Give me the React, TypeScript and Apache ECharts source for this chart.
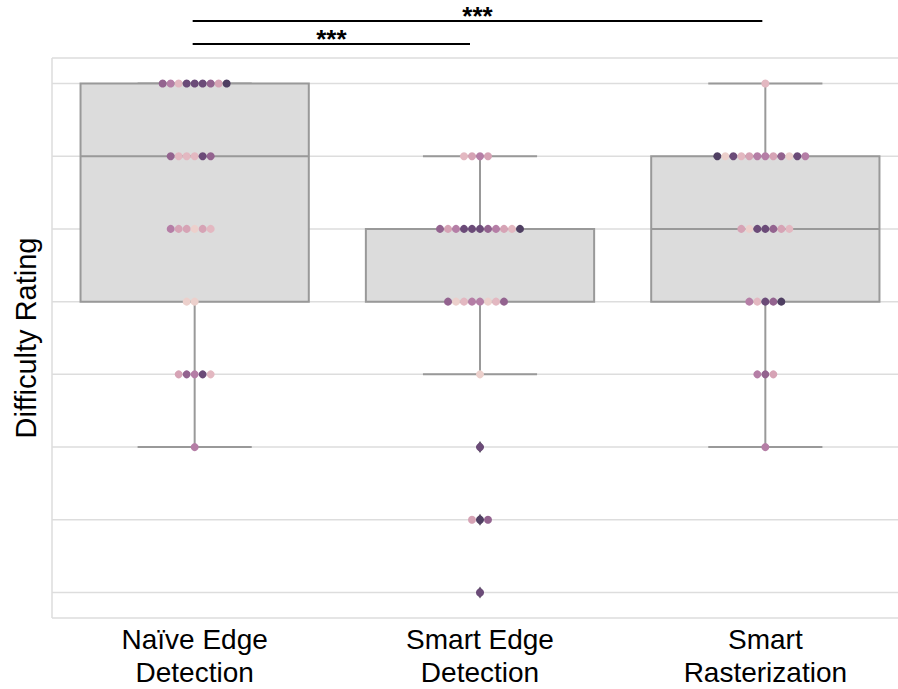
import React, { useEffect, useRef } from "react";
import * as echarts from "echarts";

const categories = ["Naïve Edge\nDetection", "Smart Edge\nDetection", "Smart\nRasterization"];
const yTicks = [1, 2, 3, 4, 5, 6, 7, 8];
const yMin = 0.65;
const yMax = 8.35;

const palette = ["#ecd0cc", "#e3b8c1", "#d6a3b5", "#b57ea6", "#93638f", "#6b4b78", "#4f3f62"];

const naiveRatings = [8, 8, 8, 8, 8, 8, 8, 8, 8, 7, 7, 7, 7, 7, 7, 6, 6, 6, 6, 6, 6, 5, 5, 4, 4, 4, 4, 4, 3];
const naiveShades = [4, 3, 1, 5, 5, 5, 4, 2, 6, 4, 1, 1, 1, 5, 4, 3, 2, 2, 0, 2, 1, 0, 0, 2, 4, 3, 5, 1, 3];

const smartEdgeRatings = [7, 7, 7, 7, 6, 6, 6, 6, 6, 6, 6, 6, 6, 6, 6, 5, 5, 5, 5, 5, 5, 5, 5, 4, 3, 2, 2, 2, 1];
const smartEdgeShades = [1, 2, 3, 2, 4, 2, 3, 5, 5, 5, 4, 3, 2, 1, 6, 4, 0, 1, 3, 3, 0, 1, 4, 0, 5, 2, 6, 4, 5];

const rasterRatings = [8, 7, 7, 7, 7, 7, 7, 7, 7, 7, 7, 7, 7, 6, 6, 6, 6, 6, 6, 6, 5, 5, 5, 5, 5, 4, 4, 4, 3];
const rasterShades = [1, 6, 0, 5, 1, 2, 3, 3, 2, 4, 0, 5, 3, 2, 0, 5, 5, 4, 2, 1, 3, 1, 5, 4, 6, 3, 4, 2, 3];

const sigPairs = [
  [0, 1],
  [0, 2],
];
const sigLabels = ["***", "***"];

const groups = [
  { ratings: naiveRatings, shades: naiveShades },
  { ratings: smartEdgeRatings, shades: smartEdgeShades },
  { ratings: rasterRatings, shades: rasterShades },
];

function quantile(sorted: number[], p: number) {
  const pos = (sorted.length - 1) * p;
  const lo = Math.floor(pos);
  const hi = Math.ceil(pos);
  return sorted[lo] + (sorted[hi] - sorted[lo]) * (pos - lo);
}

function boxStats(values: number[]) {
  const s = [...values].sort((a, b) => a - b);
  const q1 = quantile(s, 0.25);
  const med = quantile(s, 0.5);
  const q3 = quantile(s, 0.75);
  const iqr = q3 - q1;
  const lo = Math.min(...s.filter((v) => v >= q1 - 1.5 * iqr));
  const hi = Math.max(...s.filter((v) => v <= q3 + 1.5 * iqr));
  const outliers = Array.from(new Set(s.filter((v) => v < lo || v > hi)));
  return { q1, med, q3, lo, hi, outliers };
}

const FONT = "'Liberation Sans', Arial, Helvetica, sans-serif";
const DOT_SPACING = 8;
const FRAME = { stroke: "#dddddd", lineWidth: 1.5 };

export default function App() {
  const ref = useRef<HTMLDivElement>(null);

  useEffect(() => {
    if (!ref.current) return;
    const chart = echarts.init(ref.current, undefined, { renderer: "svg" });

    const boxData: number[][] = [];
    const outlierData: number[][] = [];
    const swarmData: number[][] = [];
    groups.forEach((g, ci) => {
      const st = boxStats(g.ratings);
      boxData.push([ci, st.lo, st.q1, st.med, st.q3, st.hi]);
      st.outliers.forEach((o) => outlierData.push([ci, o]));
      const byLevel: Record<number, number[]> = {};
      g.ratings.forEach((v, i) => {
        (byLevel[v] = byLevel[v] || []).push(g.shades[i]);
      });
      Object.keys(byLevel).forEach((k) => {
        const v = Number(k);
        const shades = byLevel[v];
        const n = shades.length;
        const start = -Math.floor(n / 2);
        shades.forEach((sh, j) => swarmData.push([ci, v, start + j, sh]));
      });
    });

    const sigData = sigPairs.map((p, i) => [p[0], p[1], i]);

    chart.setOption({
      animation: false,
      backgroundColor: "#ffffff",
      grid: {
        left: 52,
        top: 58,
        width: 856,
        bottom: 69,
        show: false,
      },
      xAxis: {
        type: "category",
        data: categories,
        axisLine: { show: false },
        axisTick: { show: false },
        axisLabel: {
          color: "#000000",
          fontFamily: FONT,
          fontSize: 28,
          lineHeight: 33,
          margin: 5,
        },
        splitLine: { show: false },
      },
      yAxis: {
        type: "value",
        min: yMin,
        max: yMax,
        name: "Difficulty Rating",
        nameLocation: "middle",
        nameRotate: 90,
        nameGap: 12,
        nameTextStyle: { color: "#000000", fontFamily: FONT, fontSize: 29 },
        axisLine: { show: false },
        axisTick: { show: false },
        axisLabel: { show: false },
        splitLine: { show: false },
      },
      series: [
        {
          type: "custom",
          name: "frame",
          z: 1,
          silent: true,
          clip: false,
          data: [[0, yMin]],
          renderItem: (params: any) => {
            const cs = params.coordSys;
            return {
              type: "group",
              children: [
                { type: "line", shape: { x1: cs.x, y1: cs.y, x2: cs.x, y2: cs.y + cs.height }, style: FRAME },
                { type: "line", shape: { x1: cs.x, y1: cs.y, x2: cs.x + cs.width, y2: cs.y }, style: FRAME },
                {
                  type: "line",
                  shape: { x1: cs.x, y1: cs.y + cs.height, x2: cs.x + cs.width, y2: cs.y + cs.height },
                  style: FRAME,
                },
              ],
            };
          },
        },
        {
          type: "custom",
          name: "gridlines",
          z: 1,
          silent: true,
          data: yTicks.map((v) => [0, v]),
          renderItem: (params: any, api: any) => {
            const cs = params.coordSys;
            const y = api.coord([0, api.value(1)])[1];
            return {
              type: "line",
              shape: { x1: cs.x, y1: y, x2: cs.x + cs.width, y2: y },
              style: FRAME,
            };
          },
        },
        {
          type: "custom",
          name: "box",
          z: 2,
          silent: true,
          data: boxData,
          renderItem: (params: any, api: any) => {
            const x = api.value(0);
            const band = api.size([1, 0])[0];
            const half = band * 0.4;
            const cx = api.coord([x, api.value(3)])[0];
            const yLo = api.coord([x, api.value(1)])[1];
            const yQ1 = api.coord([x, api.value(2)])[1];
            const yMed = api.coord([x, api.value(3)])[1];
            const yQ3 = api.coord([x, api.value(4)])[1];
            const yHi = api.coord([x, api.value(5)])[1];
            const stroke = { stroke: "#999999", lineWidth: 2 };
            return {
              type: "group",
              children: [
                { type: "line", shape: { x1: cx, y1: yQ1, x2: cx, y2: yLo }, style: stroke },
                { type: "line", shape: { x1: cx, y1: yQ3, x2: cx, y2: yHi }, style: stroke },
                { type: "line", shape: { x1: cx - half / 2, y1: yLo, x2: cx + half / 2, y2: yLo }, style: stroke },
                { type: "line", shape: { x1: cx - half / 2, y1: yHi, x2: cx + half / 2, y2: yHi }, style: stroke },
                {
                  type: "rect",
                  shape: { x: cx - half, y: yQ3, width: half * 2, height: yQ1 - yQ3 },
                  style: { fill: "#dcdcdc", stroke: "#999999", lineWidth: 2 },
                },
                { type: "line", shape: { x1: cx - half, y1: yMed, x2: cx + half, y2: yMed }, style: stroke },
              ],
            };
          },
        },
        {
          type: "custom",
          name: "outliers",
          z: 3,
          silent: true,
          data: outlierData,
          renderItem: (params: any, api: any) => {
            const [cx, cy] = api.coord([api.value(0), api.value(1)]);
            return {
              type: "polygon",
              shape: {
                points: [
                  [cx, cy - 6],
                  [cx + 4, cy],
                  [cx, cy + 6],
                  [cx - 4, cy],
                ],
              },
              style: { fill: "#5e5366" },
            };
          },
        },
        {
          type: "custom",
          name: "swarm",
          z: 4,
          silent: true,
          data: swarmData,
          renderItem: (params: any, api: any) => {
            const [cx, cy] = api.coord([api.value(0), api.value(1)]);
            return {
              type: "circle",
              shape: { cx: cx + api.value(2) * DOT_SPACING, cy, r: 4 },
              style: { fill: palette[api.value(3)] },
            };
          },
        },
        {
          type: "custom",
          name: "sig",
          z: 5,
          silent: true,
          clip: false,
          data: sigData,
          renderItem: (params: any, api: any) => {
            const cs = params.coordSys;
            const i = api.value(2);
            const xa = api.coord([api.value(0), yMax])[0] - 2;
            const xb = api.coord([api.value(1), yMax])[0] - (i === 0 ? 10 : 3);
            const y = cs.y - 14 - i * 23;
            return {
              type: "group",
              children: [
                { type: "line", shape: { x1: xa, y1: y, x2: xb, y2: y }, style: { stroke: "#000000", lineWidth: 2 } },
                {
                  type: "text",
                  x: (xa + xb) / 2,
                  y: y + 8,
                  style: {
                    text: sigLabels[i],
                    fill: "#000000",
                    font: `bold 26px ${FONT}`,
                    align: "center",
                    verticalAlign: "bottom",
                  },
                },
              ],
            };
          },
        },
      ],
    });

    return () => chart.dispose();
  }, []);

  return (
    <div
      style={{
        position: "fixed",
        left: 0,
        top: 0,
        width: 898,
        height: 689,
        overflow: "hidden",
        background: "#fff",
      }}
    >
      <div ref={ref} style={{ width: 930, height: 689 }} />
    </div>
  );
}
